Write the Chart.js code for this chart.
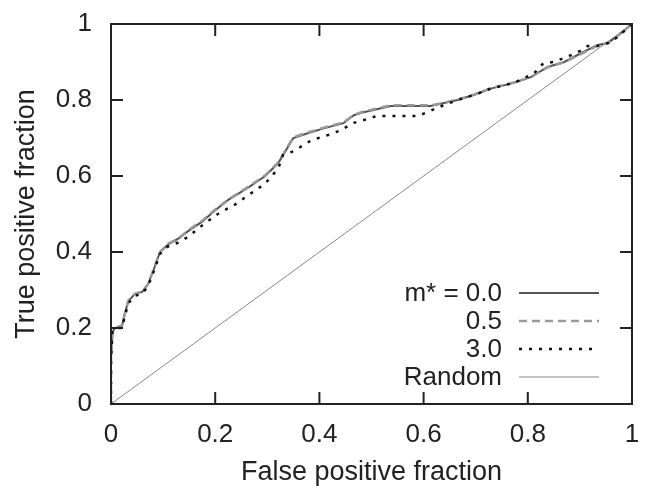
<!DOCTYPE html>
<html>
<head>
<meta charset="utf-8">
<script src="https://cdn.jsdelivr.net/npm/chart.js@4/dist/chart.umd.min.js"></script>
<style>
body { margin: 0; background: #fff; }
</style>
</head>
<body>
<canvas id="roc" width="645" height="486"></canvas>
<script>
// ROC curves
var fpr0 = [0, 0, 0.003, 0.008, 0.021, 0.027, 0.033, 0.046, 0.06, 0.071, 0.081, 0.094, 0.11, 0.129, 0.148, 0.175, 0.2, 0.225, 0.264, 0.296, 0.321, 0.35, 0.379, 0.41, 0.446, 0.466, 0.485, 0.537, 0.613, 0.633, 0.665, 0.696, 0.729, 0.773, 0.806, 0.838, 0.87, 0.902, 0.934, 0.954, 0.979, 1];
var tpr0 = [0, 0.12, 0.19, 0.2, 0.205, 0.24, 0.27, 0.29, 0.295, 0.315, 0.35, 0.4, 0.42, 0.435, 0.455, 0.48, 0.51, 0.537, 0.57, 0.6, 0.634, 0.7, 0.713, 0.726, 0.739, 0.76, 0.768, 0.784, 0.784, 0.79, 0.8, 0.813, 0.83, 0.845, 0.86, 0.887, 0.9, 0.923, 0.945, 0.95, 0.976, 1];

var fpr05 = [0, 0, 0.003, 0.008, 0.021, 0.027, 0.033, 0.046, 0.06, 0.071, 0.081, 0.094, 0.11, 0.129, 0.148, 0.175, 0.2, 0.225, 0.264, 0.296, 0.321, 0.35, 0.379, 0.41, 0.446, 0.466, 0.485, 0.537, 0.613, 0.633, 0.665, 0.696, 0.729, 0.773, 0.806, 0.838, 0.87, 0.902, 0.934, 0.954, 0.979, 1];
var tpr05 = [0, 0.12, 0.19, 0.2, 0.207, 0.24, 0.272, 0.29, 0.297, 0.315, 0.352, 0.4, 0.422, 0.435, 0.457, 0.482, 0.512, 0.538, 0.572, 0.602, 0.636, 0.702, 0.715, 0.728, 0.741, 0.761, 0.77, 0.786, 0.786, 0.791, 0.801, 0.814, 0.831, 0.846, 0.861, 0.886, 0.899, 0.921, 0.943, 0.95, 0.976, 1];

var fpr3 = [0, 0, 0.003, 0.008, 0.021, 0.033, 0.046, 0.06, 0.071, 0.081, 0.094, 0.11, 0.129, 0.148, 0.175, 0.205, 0.238, 0.264, 0.296, 0.321, 0.33, 0.35, 0.386, 0.417, 0.44, 0.466, 0.492, 0.51, 0.588, 0.608, 0.627, 0.665, 0.696, 0.729, 0.773, 0.812, 0.83, 0.85, 0.883, 0.902, 0.915, 0.934, 0.954, 0.973, 1];
var tpr3 = [0, 0.12, 0.19, 0.2, 0.2, 0.265, 0.285, 0.29, 0.31, 0.345, 0.395, 0.415, 0.425, 0.44, 0.47, 0.5, 0.525, 0.55, 0.58, 0.62, 0.655, 0.665, 0.695, 0.708, 0.72, 0.74, 0.75, 0.758, 0.758, 0.768, 0.78, 0.8, 0.813, 0.83, 0.845, 0.87, 0.897, 0.9, 0.918, 0.93, 0.942, 0.942, 0.95, 0.966, 1];

var fprRandom = [0, 1];
var tprRandom = [0, 1];

var tickValues = [0, 0.2, 0.4, 0.6, 0.8, 1];
var tickLabels = ["0", "0.2", "0.4", "0.6", "0.8", "1"];

function toPoints(xs, ys) {
	return xs.map(function (x, i) { return { x: x, y: ys[i] }; });
}

var fontFamily = "'Liberation Sans', Arial, sans-serif";

function noPad(scale) {
	scale.paddingTop = 0;
	scale.paddingBottom = 0;
	scale.paddingLeft = 0;
	scale.paddingRight = 0;
}

// frame with inward ticks on all four sides (gnuplot style)
var framePlugin = {
	id: 'frame',
	afterDatasetsDraw: function (chart) {
		var ctx = chart.ctx;
		var a = chart.chartArea;
		var xs = chart.scales.x, ys = chart.scales.y;
		ctx.save();
		ctx.strokeStyle = '#222';
		ctx.lineWidth = 2;
		ctx.strokeRect(a.left, a.top, a.right - a.left, a.bottom - a.top);
		ctx.beginPath();
		for (var i = 1; i < tickValues.length - 1; i++) {
			var px = xs.getPixelForValue(tickValues[i]);
			ctx.moveTo(px, a.bottom); ctx.lineTo(px, a.bottom - 12);
			ctx.moveTo(px, a.top); ctx.lineTo(px, a.top + 12);
			var py = ys.getPixelForValue(tickValues[i]);
			ctx.moveTo(a.left, py); ctx.lineTo(a.left + 12, py);
			ctx.moveTo(a.right, py); ctx.lineTo(a.right - 12, py);
		}
		ctx.stroke();
		ctx.restore();
	}
};

// key in the lower right, text right-aligned with the sample after it
var keyPlugin = {
	id: 'key',
	afterDraw: function (chart) {
		var ctx = chart.ctx;
		var a = chart.chartArea;
		var sets = chart.data.datasets;
		ctx.save();
		ctx.font = '26px ' + fontFamily;
		ctx.textAlign = 'right';
		ctx.textBaseline = 'middle';
		for (var i = 0; i < sets.length; i++) {
			var y = a.bottom - 27 - 28 * (sets.length - 1 - i);
			ctx.fillStyle = '#222';
			ctx.fillText(sets[i].label, a.right - 130, y + 1);
			ctx.strokeStyle = sets[i].borderColor;
			ctx.lineWidth = sets[i].borderWidth;
			ctx.setLineDash(sets[i].borderDash || []);
			ctx.beginPath();
			ctx.moveTo(a.right - 113, y);
			ctx.lineTo(a.right - 33, y);
			ctx.stroke();
		}
		ctx.restore();
	}
};

var ctx = document.getElementById('roc');
var chart = new Chart(ctx, {
	type: 'line',
	data: {
		datasets: [
			{
				label: 'm* = 0.0',
				data: toPoints(fpr0, tpr0),
				borderColor: '#555',
				borderWidth: 2,
				order: 3
			},
			{
				label: '0.5',
				data: toPoints(fpr05, tpr05),
				borderColor: '#9a9a9a',
				borderWidth: 2.5,
				borderDash: [8, 5],
				order: 2
			},
			{
				label: '3.0',
				data: toPoints(fpr3, tpr3),
				borderColor: '#111',
				borderWidth: 2.5,
				borderDash: [3, 7],
				order: 1
			},
			{
				label: 'Random',
				data: toPoints(fprRandom, tprRandom),
				borderColor: '#888',
				borderWidth: 1,
				order: 4
			}
		]
	},
	options: {
		responsive: false,
		animation: false,
		devicePixelRatio: 1,
		layout: { padding: { top: 24, right: 13, left: 0, bottom: 0 } },
		elements: { point: { radius: 0 }, line: { tension: 0, fill: false } },
		plugins: { legend: { display: false }, tooltip: { enabled: false } },
		scales: {
			x: {
				type: 'linear',
				min: 0,
				max: 1,
				grid: { display: false, drawTicks: false },
				border: { display: false },
				afterBuildTicks: function (scale) {
					scale.ticks = tickValues.map(function (v) { return { value: v }; });
				},
				afterFit: function (scale) { scale.height = 82; noPad(scale); },
				ticks: {
					padding: 15,
					color: '#222',
					font: { family: fontFamily, size: 26 },
					maxRotation: 0,
					callback: function (v) { return tickLabels[tickValues.indexOf(v)]; }
				},
				title: {
					display: true,
					text: 'False positive fraction',
					color: '#222',
					padding: { top: 0, bottom: 0 },
					font: { family: fontFamily, size: 27, lineHeight: 1 }
				}
			},
			y: {
				type: 'linear',
				min: 0,
				max: 1,
				grid: { display: false, drawTicks: false },
				border: { display: false },
				afterBuildTicks: function (scale) {
					scale.ticks = tickValues.map(function (v) { return { value: v }; });
				},
				afterFit: function (scale) { scale.width = 111; noPad(scale); },
				ticks: {
					padding: 19,
					color: '#222',
					font: { family: fontFamily, size: 26 },
					callback: function (v) { return tickLabels[tickValues.indexOf(v)]; }
				},
				title: {
					display: true,
					text: 'True positive fraction',
					color: '#222',
					padding: { top: 13, bottom: 0 },
					font: { family: fontFamily, size: 27, lineHeight: 1 }
				}
			}
		}
	},
	plugins: [framePlugin, keyPlugin]
});
</script>
</body>
</html>
